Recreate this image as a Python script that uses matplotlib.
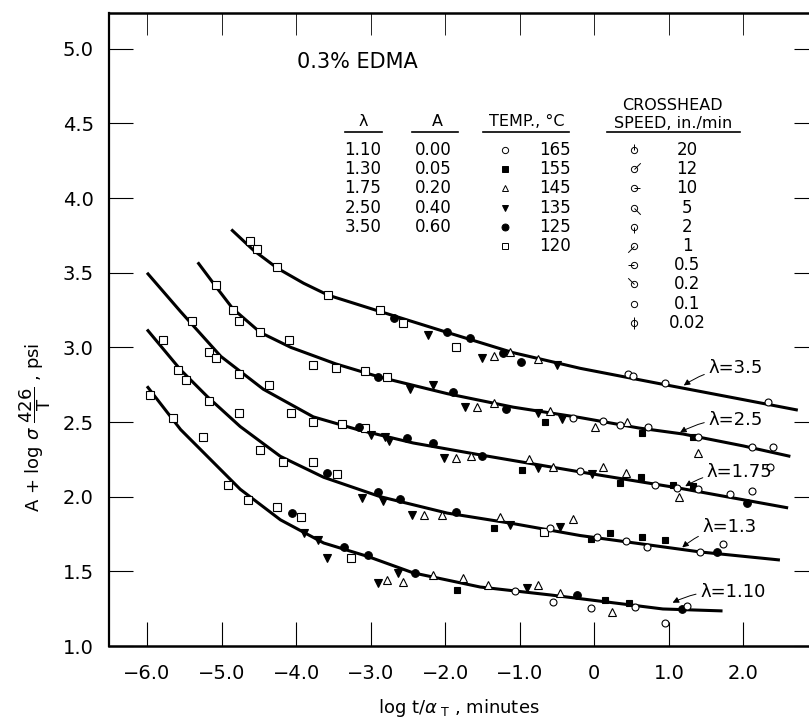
import matplotlib
matplotlib.use('Agg')
import numpy as np
import matplotlib.pyplot as plt
from matplotlib.lines import Line2D

plt.rcParams['font.family'] = ['DejaVu Sans']
plt.rcParams['mathtext.fontset'] = 'dejavusans'

#--- fitted curves ---#
lam_labels = ['λ=3.5', 'λ=2.5', 'λ=1.75', 'λ=1.3', 'λ=1.10']
curve_35_x = [-4.87, -4.57, -4.25, -3.9, -3.57, -2.87, -1.97, -1.09, -0.19, 0.95, 2.0, 2.73]
curve_35_y = [3.79, 3.65, 3.53, 3.43, 3.35, 3.24, 3.10, 2.965, 2.86, 2.75, 2.65, 2.58]
curve_25_x = [-5.32, -5.08, -4.85, -4.48, -4.07, -3.47, -2.87, -1.97, -1.09, -0.19, 0.6, 1.19, 2.0, 2.63]
curve_25_y = [3.57, 3.41, 3.26, 3.10, 3.00, 2.89, 2.80, 2.69, 2.60, 2.53, 2.46, 2.42, 2.34, 2.27]
curve_175_x = [-6.0, -5.55, -5.01, -4.44, -3.77, -3.18, -2.43, -1.53, -0.59, -0.19, 1.11, 2.6]
curve_175_y = [3.50, 3.24, 2.94, 2.72, 2.535, 2.45, 2.36, 2.28, 2.20, 2.166, 2.06, 1.925]
curve_13_x = [-6.0, -5.55, -5.19, -4.75, -4.21, -3.63, -2.87, -1.97, -1.09, -0.19, 1.42, 2.49]
curve_13_y = [3.12, 2.85, 2.67, 2.47, 2.27, 2.13, 2.00, 1.89, 1.82, 1.74, 1.63, 1.576]
curve_110_x = [-6.0, -5.55, -5.19, -4.75, -4.21, -3.63, -3.04, -2.43, -1.53, -0.59, 0.92, 1.72]
curve_110_y = [2.74, 2.45, 2.27, 2.05, 1.845, 1.69, 1.60, 1.49, 1.395, 1.342, 1.248, 1.235]

#--- label positions / arrow tips ---#
lab_x = [1.53, 1.53, 1.51, 1.45, 1.42]
lab_y = [2.86, 2.515, 2.166, 1.80, 1.36]
tip_x = [1.20, 1.15, 1.22, 1.18, 1.05]
tip_y = [2.745, 2.43, 2.07, 1.66, 1.29]

#--- data points by temperature ---#
t120_x = [-4.62, -4.52, -4.25, -3.57, -2.87, -2.57, -1.86,
          -5.08, -4.85, -4.77, -4.48, -4.10, -3.77, -3.47, -3.07, -2.78,
          -5.40, -5.17, -5.08, -4.77, -4.37, -4.07, -3.78, -3.38, -3.07,
          -5.79, -5.58, -5.48, -5.17, -4.77, -4.48, -4.17, -3.77, -3.45, -0.68,
          -5.96, -5.65, -5.25, -4.92, -4.65, -4.25, -3.94, -3.27]
t120_y = [3.71, 3.66, 3.54, 3.35, 3.25, 3.165, 3.00,
          3.42, 3.25, 3.18, 3.10, 3.05, 2.88, 2.86, 2.84, 2.80,
          3.18, 2.97, 2.93, 2.82, 2.75, 2.56, 2.50, 2.49, 2.46,
          3.05, 2.85, 2.78, 2.64, 2.56, 2.31, 2.23, 2.23, 2.15, 1.765,
          2.68, 2.53, 2.40, 2.08, 1.98, 1.93, 1.865, 1.59]
t125_x = [-2.69, -1.97, -1.67, -1.23, -0.99,
          -2.90, -1.89, -1.19,
          -3.16, -2.51, -2.17, -1.50, 2.05,
          -3.58, -2.90, -2.60, -1.86, 1.65,
          -4.05, -3.36, -3.04, -2.40, -0.23, 1.18]
t125_y = [3.20, 3.105, 3.06, 2.96, 2.90,
          2.80, 2.70, 2.59,
          2.47, 2.39, 2.36, 2.27, 1.96,
          2.16, 2.03, 1.985, 1.90, 1.63,
          1.89, 1.66, 1.61, 1.49, 1.34, 1.25]
t135_x = [-2.23, -1.50, -0.50,
          -2.47, -2.17, -1.73, -0.75, -0.43,
          -3.00, -2.81, -2.75, -2.02, -0.75, -0.03,
          -3.11, -2.84, -2.44, -1.13, -0.46,
          -3.90, -3.70, -3.58, -2.90, -2.63, -0.90]
t135_y = [3.08, 2.93, 2.88,
          2.72, 2.75, 2.60, 2.56, 2.52,
          2.41, 2.40, 2.37, 2.26, 2.19, 2.15,
          1.99, 1.97, 1.88, 1.81, 1.80,
          1.76, 1.71, 1.59, 1.42, 1.49, 1.39]
t145_x = [-1.35, -1.13, -0.76,
          -1.57, -1.35, -0.59, 0.01, 0.44, 1.39,
          -1.86, -1.66, -0.88, -0.55, 0.11, 0.42, 1.13,
          -2.29, -2.04, -1.26, -0.28,
          -2.78, -2.56, -2.16, -1.76, -1.43, -0.76, -0.46, 0.24]
t145_y = [2.94, 2.97, 2.92,
          2.60, 2.63, 2.575, 2.47, 2.50, 2.29,
          2.26, 2.27, 2.25, 2.20, 2.20, 2.16, 2.00,
          1.88, 1.88, 1.865, 1.85,
          1.44, 1.43, 1.475, 1.455, 1.41, 1.41, 1.355, 1.23]
t155_x = [-0.66, 0.64, 1.33,
          -0.97, 0.35, 0.62, 1.05, 1.33,
          -1.35, -0.05, 0.21, 0.64, 0.95,
          -1.84, 0.15, 0.46]
t155_y = [2.50, 2.43, 2.40,
          2.18, 2.09, 2.13, 2.08, 2.07,
          1.79, 1.72, 1.76, 1.73, 1.71,
          1.375, 1.31, 1.29]
t165_x = [0.45, 0.52, 0.95, 2.33,
          -0.28, 0.11, 0.35, 0.72, 1.39, 2.12, 2.40,
          -0.19, 0.82, 1.11, 1.39, 1.82, 2.12, 2.36,
          -0.59, 0.04, 0.42, 0.71, 1.42, 1.72,
          -1.06, -0.56, -0.05, 0.55, 0.95, 1.25]
t165_y = [2.82, 2.81, 2.76, 2.635,
          2.53, 2.51, 2.48, 2.47, 2.40, 2.33, 2.33,
          2.17, 2.08, 2.06, 2.05, 2.02, 2.04, 2.20,
          1.79, 1.73, 1.70, 1.66, 1.63, 1.68,
          1.37, 1.295, 1.255, 1.26, 1.155, 1.27]

#--- legend table ---#
lam_vals = ['1.10', '1.30', '1.75', '2.50', '3.50']
a_vals = ['0.00', '0.05', '0.20', '0.40', '0.60']
temps = ['165', '155', '145', '135', '125', '120']
speeds = ['20', '12', '10', '5', '2', '1', '0.5', '0.2', '0.1', '0.02']
speed_flags = [[90], [45], [0], [-45], [-90], [-135], [180], [135], [], [90, -90]]

temp_style = {'165': ('o', 'white', 5), '155': ('s', 'black', 5),
              '145': ('^', 'white', 5.5), '135': ('v', 'black', 5.5),
              '125': ('o', 'black', 5.5), '120': ('s', 'white', 5.5)}

W, H = 809, 721
fig = plt.figure(figsize=(W/100, H/100), dpi=100)
ax = fig.add_axes([109/W, 1-646/H, 700/W, 633/H])
ax.set_xlim(-6.51, 2.88)
ax.set_ylim(1.0, 5.24)

def fp(px, py):
    return px/W, 1-py/H

#--- curves ---#
curves = [(curve_35_x, curve_35_y), (curve_25_x, curve_25_y), (curve_175_x, curve_175_y),
          (curve_13_x, curve_13_y), (curve_110_x, curve_110_y)]
for cx, cy in curves:
    ax.plot(cx, cy, color='black', lw=2.2, solid_capstyle='butt',
            solid_joinstyle='round', zorder=2)

#--- points ---#
pts = {'120': (t120_x, t120_y), '125': (t125_x, t125_y), '135': (t135_x, t135_y),
       '145': (t145_x, t145_y), '155': (t155_x, t155_y), '165': (t165_x, t165_y)}
for t, (px, py) in pts.items():
    m, fc, ms = temp_style[t]
    ax.plot(px, py, ls='none', marker=m, ms=ms, mfc=fc, mec='black', mew=0.8, zorder=3)

#--- lambda labels ---#
for i in range(0, len(lam_labels)):
    ax.annotate(lam_labels[i], xy=(tip_x[i], tip_y[i]), xytext=(lab_x[i], lab_y[i]),
                ha='left', va='center', fontsize=13,
                arrowprops=dict(arrowstyle='-|>', color='black', lw=0.7,
                                connectionstyle='arc3,rad=0.15', mutation_scale=9,
                                shrinkA=1, shrinkB=0))

#--- axes styling ---#
xt = [-6, -5, -4, -3, -2, -1, 0, 1, 2]
xtl = ['−6.0', '−5.0', '−4.0', '−3.0', '−2.0', '−1.0', '0', '1.0', '2.0']
yt = [1.0, 1.5, 2.0, 2.5, 3.0, 3.5, 4.0, 4.5, 5.0]
ax.set_xticks(xt)
ax.set_xticklabels(xtl, fontsize=14)
ax.set_yticks(yt)
ax.set_yticklabels(['%.1f' % v for v in yt], fontsize=14)
ax.tick_params(axis='x', direction='in', length=17, width=0.8, pad=13, top=True)
ax.tick_params(axis='y', direction='in', length=17, width=0.8, pad=11, right=True)
for tk in ax.xaxis.get_major_ticks():
    tk.tick2line.set_markersize(16)
    tk.tick2line.set_color('0.45')
    tk.tick2line.set_markeredgewidth(0.6)
for tk in ax.yaxis.get_major_ticks():
    tk.tick2line.set_markersize(11)
ax.spines['right'].set_visible(False)
ax.spines['left'].set_linewidth(1.6)
ax.spines['bottom'].set_linewidth(1.8)
ax.spines['top'].set_linewidth(1.8)

ax.set_xlabel(r'log t/$\alpha_{\ \mathrm{T}}$ , minutes', fontsize=13, labelpad=10)
fig.text(35/W, 1-427/H, r'A + log $\sigma\ \dfrac{426}{\mathrm{T}}$ , psi',
         rotation=90, ha='center', va='center', fontsize=13)

#--- title and legend table ---#
fig.text(*fp(357, 62), '0.3% EDMA', ha='center', va='center', fontsize=15)

hdr_fs = 11.5
fig.text(*fp(363, 122), 'λ', ha='center', va='center', fontsize=hdr_fs)
fig.text(*fp(437, 122), 'A', ha='center', va='center', fontsize=hdr_fs)
fig.text(*fp(527, 122), 'TEMP., °C', ha='center', va='center', fontsize=hdr_fs)
fig.text(*fp(672, 106), 'CROSSHEAD', ha='center', va='center', fontsize=hdr_fs)
fig.text(*fp(673, 123), 'SPEED, in./min', ha='center', va='center', fontsize=hdr_fs)
for x0, x1 in [(345, 382), (412, 458), (483, 569), (607, 740)]:
    fig.add_artist(Line2D([x0/W, x1/W], [1-132/H, 1-132/H], color='black', lw=1.2))

row0 = 150
dy = 19.2
for i in range(0, len(lam_vals)):
    y = row0 + i*dy
    fig.text(*fp(363, y), lam_vals[i], ha='center', va='center', fontsize=12)
    fig.text(*fp(433, y), a_vals[i], ha='center', va='center', fontsize=12)
for i in range(0, len(temps)):
    y = row0 + i*dy
    m, fc, ms = temp_style[temps[i]]
    ax.plot([fp(505, y)[0]], [fp(505, y)[1]], transform=fig.transFigure, clip_on=False,
            marker=m, ms=ms-0.5, mfc=fc, mec='black', mew=0.7)
    fig.text(*fp(555, y), temps[i], ha='center', va='center', fontsize=12)
for i in range(0, len(speeds)):
    y = row0 + i*dy
    sx, sy = fp(634, y)
    ax.plot([sx], [sy], transform=fig.transFigure, clip_on=False,
            marker='o', ms=4.5, mfc='white', mec='black', mew=0.7)
    for ang in speed_flags[i]:
        a = np.deg2rad(ang)
        ax.plot([sx], [sy], transform=fig.transFigure, clip_on=False,
                marker=[(0, 0), (np.cos(a), np.sin(a))], ms=9, mec='black', mew=0.7)
    fig.text(*fp(687, y), speeds[i], ha='center', va='center', fontsize=12)

plt.savefig('out.png', dpi=100)
